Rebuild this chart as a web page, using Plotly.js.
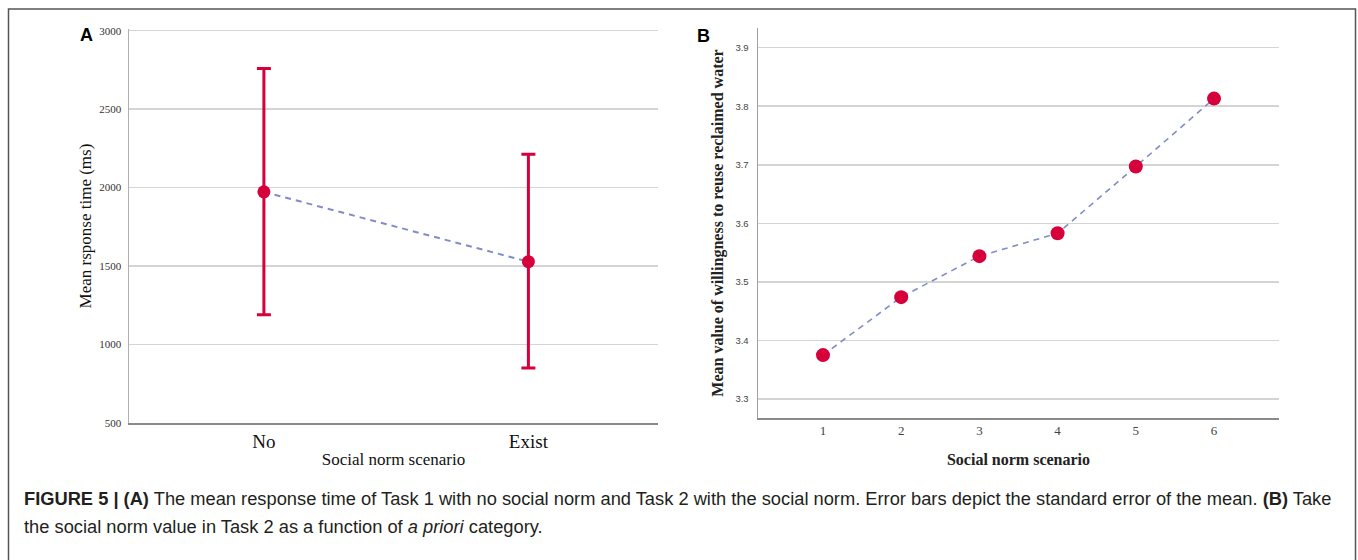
<!DOCTYPE html>
<html>
<head>
<meta charset="utf-8">
<script src="https://cdn.plot.ly/plotly-3.0.1.min.js"></script>
<style>
  html, body { margin: 0; padding: 0; background: #fff; }
  #chart { width: 1358px; height: 560px; }
</style>
</head>
<body>
<div id="chart"></div>
<script>
// Panel A data
const scenarioA = ['No', 'Exist'];
const meanRT = [1973, 1528];
const rtUpperErr = [787, 685];
const rtLowerErr = [783, 677];
const yTicksA = [500, 1000, 1500, 2000, 2500, 3000];

// Panel B data
const scenarioB = [1, 2, 3, 4, 5, 6];
const willingness = [3.375, 3.474, 3.544, 3.583, 3.697, 3.813];
const yTicksB = [3.3, 3.4, 3.5, 3.6, 3.7, 3.8, 3.9];

const W = 1358, H = 560;
const px = v => v / W;
const py = v => 1 - v / H;

const red = '#d6003a';
const dashBlue = '#7f8dc9';
const serif = 'Liberation Serif, Times New Roman, serif';
const sans = 'Liberation Sans, Arial, sans-serif';

const traces = [
  {
    x: scenarioA, y: meanRT, xaxis: 'x', yaxis: 'y',
    type: 'scatter', mode: 'lines+markers',
    line: { color: dashBlue, width: 2, dash: '6px,5px' },
    marker: { color: red, size: 13 },
    error_y: { type: 'data', symmetric: false, array: rtUpperErr, arrayminus: rtLowerErr,
               color: red, thickness: 3, width: 7 },
    hoverinfo: 'x+y'
  },
  {
    x: scenarioB, y: willingness, xaxis: 'x2', yaxis: 'y2',
    type: 'scatter', mode: 'lines+markers',
    line: { color: dashBlue, width: 1.6, dash: '6px,5px' },
    marker: { color: red, size: 14 },
    hoverinfo: 'x+y'
  }
];

const layout = {
  width: W, height: H,
  margin: { l: 0, r: 0, t: 0, b: 0 },
  paper_bgcolor: '#fff', plot_bgcolor: '#fff',
  showlegend: false,
  xaxis: {
    domain: [px(129), px(658)],
    anchor: 'y',
    type: 'category',
    categoryorder: 'array', categoryarray: scenarioA,
    range: [-0.51, 1.49],
    showgrid: false, zeroline: false,
    showline: true, linecolor: '#8a8a8a', linewidth: 2,
    ticks: '', ticklabelstandoff: 0,
    tickfont: { family: serif, size: 19, color: '#111' },
    title: { text: 'Social norm scenario', font: { family: serif, size: 17, color: '#111' }, standoff: 2 }
  },
  yaxis: {
    domain: [py(423), py(29)],
    anchor: 'x',
    range: [500, 3011],
    tickvals: yTicksA,
    showgrid: true, gridcolor: '#d4d4d4', gridwidth: 1.5,
    zeroline: false,
    showline: true, linecolor: '#b0b0b0', linewidth: 1.5,
    ticks: '', ticklabelstandoff: 4,
    tickfont: { family: serif, size: 11, color: '#333' },
    title: { text: 'Mean rsponse time (ms)', font: { family: serif, size: 17, color: '#111' }, standoff: 3 }
  },
  xaxis2: {
    domain: [px(758), px(1279)],
    anchor: 'y2',
    range: [0.169, 6.831],
    tickvals: scenarioB,
    showgrid: false, zeroline: false,
    showline: true, linecolor: '#8a8a8a', linewidth: 1.5,
    ticks: '', ticklabelstandoff: 0,
    tickfont: { family: serif, size: 13, color: '#444' },
    title: { text: '<b>Social norm scenario</b>', font: { family: serif, size: 16, color: '#222' }, standoff: 16 }
  },
  yaxis2: {
    domain: [py(418), py(28)],
    anchor: 'x2',
    range: [3.2676, 3.9336],
    tickvals: yTicksB,
    tickformat: '.1f',
    showgrid: true, gridcolor: '#d4d4d4', gridwidth: 1.5,
    zeroline: false,
    showline: true, linecolor: '#a0a0a0', linewidth: 1.5,
    ticks: '', ticklabelstandoff: 6,
    tickfont: { family: sans, size: 9.5, color: '#444' },
    title: { text: '<b>Mean value of willingness to reuse reclaimed water</b>', font: { family: serif, size: 16, color: '#222' }, standoff: 8 }
  },
  annotations: [
    { xref: 'paper', yref: 'paper', x: px(87), y: py(35), text: '<b>A</b>', showarrow: false,
      font: { family: sans, size: 18, color: '#000' }, xanchor: 'center', yanchor: 'middle' },
    { xref: 'paper', yref: 'paper', x: px(703), y: py(36), text: '<b>B</b>', showarrow: false,
      font: { family: sans, size: 18, color: '#000' }, xanchor: 'center', yanchor: 'middle' },
    { xref: 'paper', yref: 'paper', x: px(22), y: py(498), xanchor: 'left', yanchor: 'middle', showarrow: false,
      text: '<b>FIGURE 5 | (A)</b> The mean response time of Task 1 with no social norm and Task 2 with the social norm. Error bars depict the standard error of the mean. <b>(B)</b> Take',
      font: { family: sans, size: 18.3, color: '#231f20' }, align: 'left' },
    { xref: 'paper', yref: 'paper', x: px(22), y: py(526), xanchor: 'left', yanchor: 'middle', showarrow: false,
      text: 'the social norm value in Task 2 as a function of <i>a priori</i> category.',
      font: { family: sans, size: 18.3, color: '#231f20' }, align: 'left' }
  ],
  shapes: [
    { type: 'path', xref: 'paper', yref: 'paper',
      path: `M ${px(8.5)} ${py(565)} L ${px(8.5)} ${py(9)} L ${px(1355.5)} ${py(9)} L ${px(1355.5)} ${py(565)}`,
      line: { color: '#555', width: 1.5 } }
  ]
};

Plotly.newPlot('chart', traces, layout, { staticPlot: true, displayModeBar: false });
</script>
</body>
</html>
